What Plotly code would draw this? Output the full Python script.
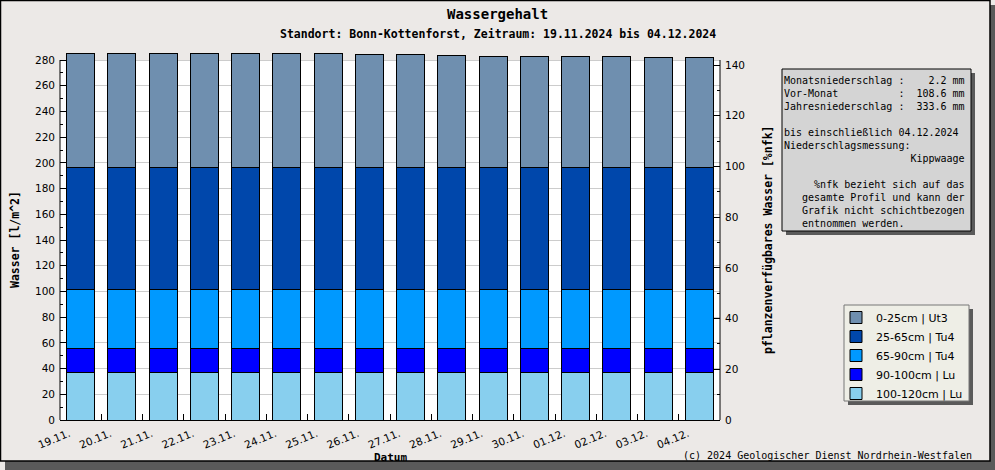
import numpy as np
import plotly.graph_objects as go

# Tageswerte, Schichten von unten nach oben
dates = ["19.11.", "20.11.", "21.11.", "22.11.", "23.11.", "24.11.", "25.11.", "26.11.",
         "27.11.", "28.11.", "29.11.", "30.11.", "01.12.", "02.12.", "03.12.", "04.12."]

l_100_120 = [36.8, 36.8, 36.8, 36.8, 36.8, 36.8, 36.8, 36.8,
             36.8, 36.8, 36.8, 36.8, 36.8, 36.8, 36.8, 36.8]
l_90_100 = [19.2, 19.2, 19.2, 19.2, 19.2, 19.2, 19.2, 19.2,
            19.2, 19.2, 19.2, 19.2, 19.2, 19.2, 19.2, 19.2]
l_65_90 = [45.6, 45.6, 45.6, 45.6, 45.6, 45.6, 45.6, 45.6,
           45.6, 45.6, 45.6, 45.6, 45.6, 45.6, 45.6, 45.6]
l_25_65 = [94.9, 94.9, 94.9, 94.9, 94.9, 94.9, 94.9, 94.9,
           94.9, 94.9, 94.9, 94.9, 94.9, 94.9, 94.9, 94.9]
l_0_25 = [88.9, 88.9, 88.8, 88.8, 88.7, 88.7, 88.6, 87.9,
          87.8, 87.1, 86.4, 86.4, 86.5, 86.5, 85.7, 85.6]

layer_names = ["100-120cm | Lu", "90-100cm | Lu", "65-90cm | Tu4", "25-65cm | Tu4", "0-25cm | Ut3"]
layer_colors = ["#88cfee", "#0000ff", "#0099ff", "#0047ab", "#6f8faf"]

info_lines = [
    "Monatsniederschlag :    2.2 mm",
    "Vor-Monat          :  108.6 mm",
    "Jahresniederschlag :  333.6 mm",
    "",
    "bis einschließlich 04.12.2024",
    "Niederschlagsmessung:",
    "                     Kippwaage",
    "",
    "     %nfk bezieht sich auf das",
    "   gesamte Profil und kann der",
    "   Grafik nicht schichtbezogen",
    "   entnommen werden.",
]

W, H = 995, 470
L, R, T0, B = 60, 720, 60, 420      # T0: Pixelhoehe von 280
YMAX, YTOP = 280, 287               # sichtbare Achse / Platz fuer Balken ueber 280
scale = (B - T0) / YMAX
T = B - YTOP * scale


def px(x):
    return (x - L) / (R - L)


def py(y):
    return (B - y) / (B - T)


xpos = np.arange(len(dates))
mono = "DejaVu Sans Mono"
sans = "DejaVu Sans"
page = "#ECE9E7"

fig = go.Figure()
for name, vals, col in zip(layer_names, [l_100_120, l_90_100, l_65_90, l_25_65, l_0_25], layer_colors):
    fig.add_trace(go.Bar(
        x=xpos, y=vals, name=name,
        marker=dict(color=col, line=dict(color="black", width=1)),
        hoverinfo="skip",
    ))

# Hilfsspur fuer zweite y-Achse / Beschriftungsachse
fig.add_trace(go.Scatter(x=[None], y=[None], xaxis="x2", yaxis="y2",
                         showlegend=False, hoverinfo="skip"))

y2max = 142 * YTOP / YMAX

fig.update_layout(
    width=W, height=H,
    margin=dict(l=L, r=W - R, t=T, b=H - B),
    barmode="stack", bargap=0.32,
    paper_bgcolor=page, plot_bgcolor=page,
    font=dict(family=sans, size=11, color="black"),
    xaxis=dict(range=[-0.5, len(dates) - 0.5], tickvals=xpos[:-1] + 0.5,
               showticklabels=False, ticks="inside", ticklen=6, tickcolor="black",
               showline=True, linecolor="black", linewidth=1, showgrid=False, zeroline=False),
    xaxis2=dict(overlaying="x", anchor="y", side="bottom",
                range=[-0.5, len(dates) - 0.5], tickvals=xpos - 0.28, ticktext=dates,
                tickangle=-22, ticks="", showline=False, showgrid=False, zeroline=False,
                tickfont=dict(family=sans, size=10.5), ticklabelstandoff=5),
    yaxis=dict(range=[0, YTOP], tickvals=list(range(0, YMAX + 1, 20)), ticks="inside", ticklen=6,
               tickcolor="black",
               minor=dict(ticks="inside", ticklen=3, tickvals=list(range(10, YMAX, 20)),
                          tickcolor="black", showgrid=False),
               showline=False, showgrid=True, gridcolor="#cccccc",
               zeroline=False, tickfont=dict(family=sans, size=10.5), ticklabelstandoff=4),
    yaxis2=dict(overlaying="y", anchor="x", side="right", range=[0, y2max],
                tickvals=list(range(0, 141, 20)),
                ticks="inside", ticklen=6, tickcolor="black",
                minor=dict(ticks="inside", ticklen=3, tickvals=list(range(10, 140, 20)),
                           tickcolor="black", showgrid=False),
                showline=False, showgrid=False, zeroline=False,
                tickfont=dict(family=sans, size=10.5), ticklabelstandoff=4),
    legend=dict(x=px(836), y=py(303), xanchor="left", yanchor="top", traceorder="reversed",
                bgcolor="rgba(0,0,0,0)", borderwidth=0, font=dict(family=sans, size=11)),
    showlegend=True,
)

shapes = [
    # weisse Diagrammflaeche bis 280
    dict(type="rect", xref="paper", yref="y", x0=0, x1=1, y0=0, y1=YMAX,
         fillcolor="white", line_width=0, layer="below"),
    # Achslinien links / rechts
    dict(type="line", xref="paper", yref="y", x0=0, x1=0, y0=0, y1=YMAX,
         line=dict(color="black", width=1), layer="above"),
    dict(type="line", xref="paper", yref="y", x0=1, x1=1, y0=0, y1=YMAX,
         line=dict(color="black", width=1), layer="above"),
    # Rahmen mit Schatten
    dict(type="rect", xref="paper", yref="paper", x0=px(990), x1=px(995), y0=py(5), y1=py(470),
         fillcolor="#5a5a5a", line_width=0, layer="below"),
    dict(type="rect", xref="paper", yref="paper", x0=px(5), x1=px(995), y0=py(461), y1=py(470),
         fillcolor="#5a5a5a", line_width=0, layer="below"),
    dict(type="rect", xref="paper", yref="paper", x0=px(0.5), x1=px(990), y0=py(0.5), y1=py(461),
         line=dict(color="black", width=1.5), layer="below"),
    # Infobox
    dict(type="rect", xref="paper", yref="paper", x0=px(786), x1=px(975), y0=py(73), y1=py(235),
         fillcolor="#5a5a5a", line_width=0, layer="above"),
    dict(type="rect", xref="paper", yref="paper", x0=px(782), x1=px(971), y0=py(69), y1=py(231),
         fillcolor="#d4d4d4", line=dict(color="black", width=1), layer="above"),
    # Legendenbox
    dict(type="rect", xref="paper", yref="paper", x0=px(848), x1=px(973), y0=py(309), y1=py(405),
         fillcolor="#5a5a5a", line_width=0, layer="above"),
    dict(type="rect", xref="paper", yref="paper", x0=px(844), x1=px(969), y0=py(305), y1=py(401),
         fillcolor="#eeeee6", line=dict(color="#777777", width=1), layer="above"),
]
fig.update_layout(shapes=shapes)

info_text = "<br>".join((ln if ln else " ").replace(" ", "\u00a0") for ln in info_lines)

annotations = [
    dict(text="<b>Wassergehalt</b>", x=px(497), y=py(14), font=dict(family=mono, size=14)),
    dict(text="<b>Standort: Bonn-Kottenforst, Zeitraum: 19.11.2024 bis 04.12.2024</b>",
         x=px(498), y=py(34), font=dict(family=mono, size=11.5)),
    dict(text="<b>Wasser [l/m^2]</b>", x=px(15), y=py(240), textangle=-90,
         font=dict(family=mono, size=11.5)),
    dict(text="<b>pflanzenverfügbares Wasser [%nfk]</b>", x=px(768), y=py(240), textangle=-90,
         font=dict(family=mono, size=11.5)),
    dict(text="<b>Datum</b>", x=px(390), y=py(457), font=dict(family=mono, size=11)),
    dict(text="(c) 2024 Geologischer Dienst Nordrhein-Westfalen", x=px(974), y=py(455),
         xanchor="right", font=dict(family=mono, size=10)),
    dict(text=info_text, x=px(782), y=py(72.5), xanchor="left", yanchor="top", align="left",
         font=dict(family=mono, size=10)),
]
for a in annotations:
    a.setdefault("xref", "paper")
    a.setdefault("yref", "paper")
    a.setdefault("showarrow", False)
    a.setdefault("xanchor", "center")
    a.setdefault("yanchor", "middle")
fig.update_layout(annotations=annotations)

fig.write_html("out.html", config={"displayModeBar": False},
               post_script="document.body.style.margin='0';")
